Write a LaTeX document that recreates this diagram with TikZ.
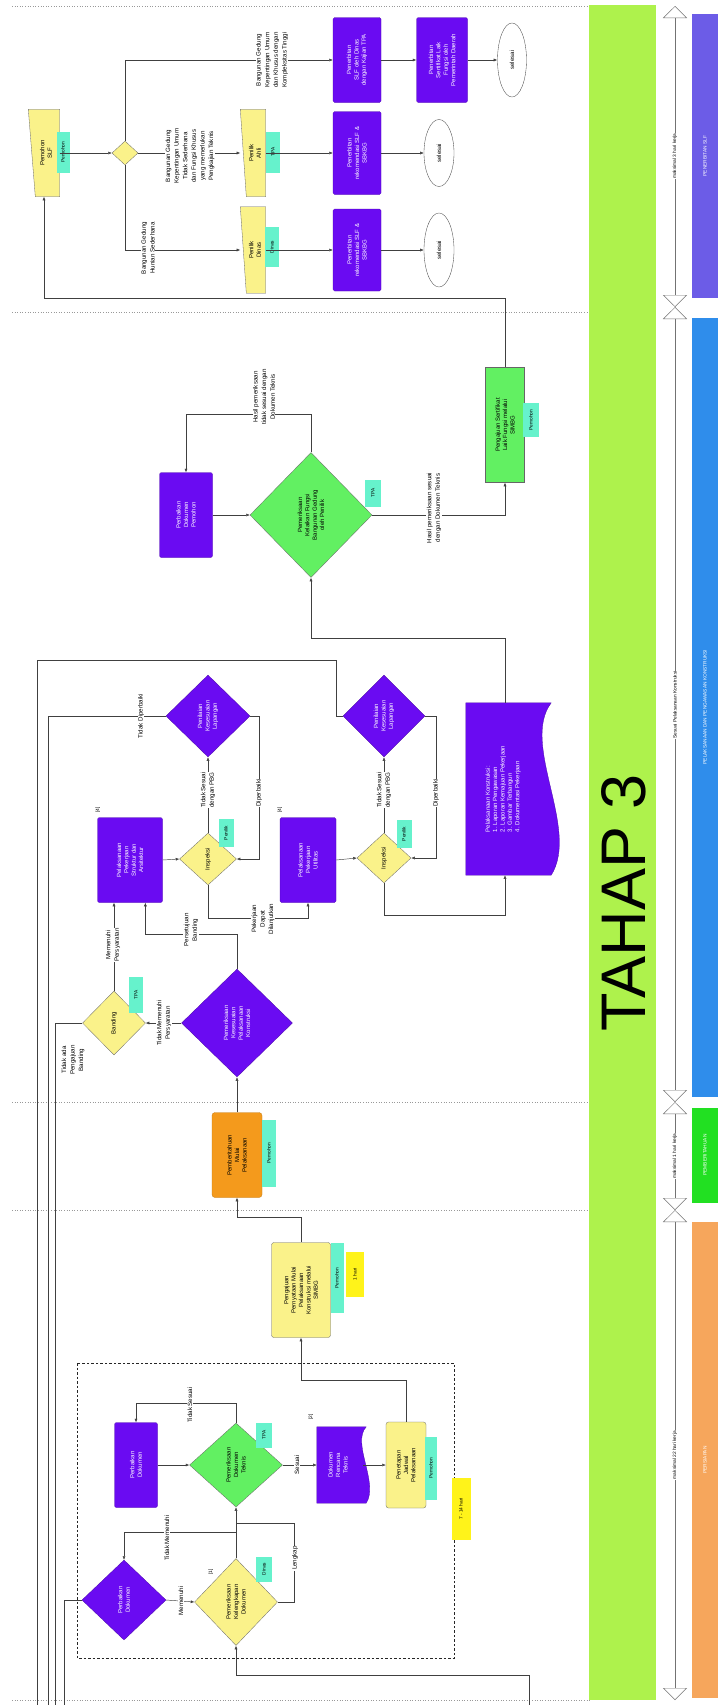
\documentclass[tikz,border=0pt]{standalone}
\usepackage{fontspec}
\setmainfont{Liberation Sans}
\usepackage{graphicx}
\usetikzlibrary{shapes.geometric,arrows.meta,calc}
\definecolor{pur}{HTML}{6A0BF2}
\definecolor{yel}{HTML}{FAF28A}
\definecolor{grn}{HTML}{62F062}
\definecolor{cyn}{HTML}{66F2CC}
\definecolor{org}{HTML}{F49A1C}
\definecolor{bigg}{HTML}{AEF24C}
\definecolor{lpur}{HTML}{6C5CE7}
\definecolor{lblu}{HTML}{2F8DEB}
\definecolor{lgrn}{HTML}{22E022}
\definecolor{lorg}{HTML}{F6A65C}
\newcommand\labfont{\fontsize{6.2}{8.6}\selectfont}
\newcommand\boxfont{\fontsize{6}{7.4}\selectfont}
\newcommand\tagfont{\fontsize{4.8}{5.6}\selectfont}
\newcommand\stripfont{\fontsize{4.8}{5.6}\selectfont}
\tikzset{
 ln/.style={draw=black!75, line width=0.45pt},
 arr/.style={ln, -{Latex[length=3.6pt,width=3pt]}},
 pbox/.style={rectangle, rounded corners=1.5pt, fill=pur, draw=pur!70!black, line width=0.3pt, inner sep=0pt},
 ybox/.style={rectangle, rounded corners=2.5pt, fill=yel, draw=black!60, line width=0.3pt, inner sep=0pt},
 gbox/.style={rectangle, fill=grn, draw=black!60, line width=0.3pt, inner sep=0pt},
 obox/.style={rectangle, rounded corners=3pt, fill=org, draw=org!80!black, line width=0.3pt, inner sep=0pt},
 dia/.style={diamond, inner sep=0pt, line width=0.3pt, draw=black!60},
 pdia/.style={dia, fill=pur, draw=pur!70!black},
 hold/.style={rectangle, inner sep=0pt, draw=none},
 tagbox/.style={rectangle, fill=cyn, inner sep=0.5pt, rotate=90, font=\tagfont},
 ytag/.style={rectangle, fill=yellow!90!white, inner sep=0.5pt, rotate=90, font=\tagfont},
 vt/.style={rotate=90, align=center, inner sep=0.6pt, font=\labfont},
 lab/.style={vt, fill=white},
 wt/.style={rotate=90, align=center, inner sep=0pt, font=\boxfont, text=white},
 bt/.style={rotate=90, align=center, inner sep=0pt, font=\boxfont, text=black},
 mk/.style={rotate=90, inner sep=0pt, font=\tagfont},
 strip/.style={draw=black!55, line width=0.4pt, {Triangle[open,length=12pt,width=24pt]}-{Triangle[open,length=12pt,width=24pt]}},
 lanebar/.style={rectangle, rotate=90, inner sep=0pt, text=white, font=\stripfont, minimum height=26pt},
}
\begin{document}
\begin{tikzpicture}[x=1pt,y=-1pt]
\useasboundingbox (0,0) rectangle (718,1705);
\fill[white] (0,0) rectangle (718,1705);

% lane separators
\foreach \yy in {6,312,1102,1210,1700}
  \draw[black!40, dotted, line width=0.6pt] (12,\yy) -- (590,\yy);

% ---------------- right panel ----------------
\node[rectangle, fill=bigg, inner sep=0pt, minimum width=67pt, minimum height=1695pt] (bigbar) at (622.5,852.5) {};
\node[rotate=90, inner sep=0pt, font=\fontsize{63}{63}\selectfont] (tahap) at (624,903) {TAHAP 3};

\coordinate (s0) at (675,6);
\coordinate (s1) at (675,307);
\coordinate (s2) at (675,1102);
\coordinate (s3) at (675,1210);
\coordinate (s4) at (675,1700);
\draw[strip] (s0) -- (s1);
\draw[strip] (s1) -- (s2);
\draw[strip] (s2) -- (s3);
\draw[strip] (s3) -- (s4);
\node[vt, fill=white, font=\stripfont] (sl1) at (675,156) {maksimal 3 hari kerja};
\node[vt, fill=white, font=\stripfont] (sl2) at (675,705) {Sesuai Pelaksanaan Konstruksi};
\node[vt, fill=white, font=\stripfont] (sl3) at (675,1156) {maksimal 1 hari kerja};
\node[vt, fill=white, font=\stripfont] (sl4) at (675,1455) {maksimal 22 hari kerja};

\node[lanebar, fill=lpur, minimum width=284pt] (lb1) at (705,156) {PENERBITAN SLF};
\node[lanebar, fill=lblu, minimum width=779pt] (lb2) at (705,707) {PELAKSANAAN DAN PENGAWASAN KONSTRUKSI};
\node[lanebar, fill=lgrn, minimum width=95pt] (lb3) at (705,1155) {PEMBERITAHUAN};
\node[lanebar, fill=lorg, minimum width=476pt] (lb4) at (705,1460) {PERSIAPAN};

% ---------------- lane 1 : penerbitan ----------------
\node[hold, minimum width=31pt, minimum height=87pt] (tA) at (44,153) {};
\filldraw[fill=yel, draw=black!60, line width=0.3pt] (tA.north west) -- (tA.north east) -- (tA.south east) -- ($(tA.south west)+(7,0)$) -- cycle;
\node[bt] (tA-t) at (46,153) {Pemohon\\SLF};
\node[tagbox, minimum width=41pt, minimum height=13pt] (tA-g) at (63,152) {Pemohon};

\node[dia, fill=yel, minimum width=26pt, minimum height=24pt] (dA) at (125,153) {};

\node[hold, minimum width=25pt, minimum height=87pt] (tB) at (253,153) {};
\filldraw[fill=yel, draw=black!60, line width=0.3pt] (tB.north west) -- (tB.north east) -- (tB.south east) -- ($(tB.south west)+(6,0)$) -- cycle;
\node[bt] (tB-t) at (255,153) {Penilik\\Ahli};
\node[tagbox, minimum width=41pt, minimum height=14pt] (tB-g) at (273,152) {TPA};

\node[hold, minimum width=25pt, minimum height=86pt] (tC) at (253,250) {};
\filldraw[fill=yel, draw=black!60, line width=0.3pt] (tC.north west) -- (tC.north east) -- (tC.south east) -- ($(tC.south west)+(6,0)$) -- cycle;
\node[bt] (tC-t) at (255,250) {Penilik\\Dinas};
\node[tagbox, minimum width=40pt, minimum height=14pt] (tC-g) at (272,247) {Dinas};

\node[pbox, minimum width=48pt, minimum height=85pt] (pA) at (357,60) {};
\node[wt] (pA-t) at (pA) {Penerbitan\\SLF oleh Dinas\\dengan Kajian TPA};
\node[pbox, minimum width=51pt, minimum height=85pt] (pD) at (442,60) {};
\node[wt] (pD-t) at (pD) {Penerbitan\\Sertifikat Laik\\Fungsi oleh\\Pemerintah Daerah};
\node[pbox, minimum width=48pt, minimum height=83pt] (pB) at (357,153) {};
\node[wt] (pB-t) at (pB) {Penerbitan\\rekomendasi SLF \&\\SBKBG};
\node[pbox, minimum width=48pt, minimum height=82pt] (pC) at (357,250) {};
\node[wt] (pC-t) at (pC) {Penerbitan\\rekomendasi SLF \&\\SBKBG};

\node[ellipse, draw=black!70, fill=white, line width=0.35pt, inner sep=0pt, minimum width=29pt, minimum height=74pt] (eA) at (512,60) {};
\node[bt] (eA-t) at (eA) {selesai};
\node[ellipse, draw=black!70, fill=white, line width=0.35pt, inner sep=0pt, minimum width=30pt, minimum height=67pt] (eB) at (439,153) {};
\node[bt] (eB-t) at (eB) {selesai};
\node[ellipse, draw=black!70, fill=white, line width=0.35pt, inner sep=0pt, minimum width=30pt, minimum height=74pt] (eC) at (439,250) {};
\node[bt] (eC-t) at (eC) {selesai};

\draw[arr] (tA.east) -- (dA.west);
\draw[arr] (dA.north) |- (pA.west);
\draw[arr] (dA.east) -- (tB.west);
\draw[arr] (dA.south) |- (tC.west);
\draw[arr] (tB.east) -- (pB.west);
\draw[arr] (tC.east) -- (pC.west);
\draw[arr] (pA.east) -- (pD.west);
\draw[arr] (pD.east) -- (eA.west);
\draw[arr] (pB.east) -- (eB.west);
\draw[arr] (pC.east) -- (eC.west);

\node[lab] (l1) at (272,60) {Bangunan Gedung\\Kepentingan Umum\\dan Khusus dengan\\Kompleksitas Tinggi};
\node[lab] (l2) at (190,156) {Bangunan Gedung\\Kepentingan Umum\\Tidak Sederhana\\dan Fungsi Khusus\\yang memerlukan\\Pengkajian Teknis};
\node[lab] (l3) at (148,248) {Bangunan Gedung\\Hunian Sederhana};

% ---------------- lane 2 : pelaksanaan ----------------
\node[gbox, minimum width=39pt, minimum height=115pt] (gE) at (505,425) {};
\node[bt] (gE-t) at (gE) {Pengajuan Sertifikat\\Laik Fungsi melalui\\SIMBG};
\node[tagbox, minimum width=34pt, minimum height=16pt] (gE-g) at (531,420) {Pemohon};

\node[dia, fill=grn, minimum width=122pt, minimum height=125pt] (gD) at (311,515) {};
\node[bt] (gD-t) at (gD) {Pemeriksaan\\Kelaikan Fungsi\\Bangunan Gedung\\oleh Penilik};
\node[tagbox, minimum width=27pt, minimum height=16pt] (gD-g) at (373,493) {TPA};

\node[pbox, minimum width=53pt, minimum height=85pt] (pE) at (186,515) {};
\node[wt] (pE-t) at (pE) {Perbaikan\\Dokumen\\Pemohon};

\node[hold, minimum width=78pt, minimum height=172pt] (wD) at (505,789) {};
\filldraw[fill=pur, draw=pur!70!black, line width=0.3pt] (wD.north west) -- ($(wD.north east)+(7,0)$) .. controls ($(wD.east)+(-24,-45)$) and ($(wD.east)+(36,40)$) .. ($(wD.south east)+(7,0)$) -- (wD.south west) -- cycle;
\node[wt, align=left] (wD-t) at (503,789) {Pelaksanaan Konstruksi:\\1. Laporan Pengawasan\\2. Laporan Kemajuan Pekerjaan\\3. Gambar Terbangun\\4. Dokumentasi Pekerjaan};

\node[pdia, minimum width=84pt, minimum height=82pt] (dPA) at (208,716) {};
\node[wt] (dPA-t) at (dPA) {Penilaian\\Kesesuaian\\Lapangan};
\node[pdia, minimum width=82pt, minimum height=82pt] (dPB) at (384,716) {};
\node[wt] (dPB-t) at (dPB) {Penilaian\\Kesesuaian\\Lapangan};

\node[pbox, minimum width=65pt, minimum height=85pt] (pC2) at (130,860) {};
\node[wt] (pC2-t) at (pC2) {Pelaksanaan\\Pekerjaan\\Struktur dan\\Arsitektur};
\node[pbox, minimum width=56pt, minimum height=85pt] (pD2) at (308,860) {};
\node[wt] (pD2-t) at (pD2) {Pelaksanaan\\Pekerjaan\\Utilitas};
\node[mk] (m4a) at (98,810) {[4]};
\node[mk] (m4b) at (280,810) {[4]};

\node[dia, fill=yel, minimum width=57pt, minimum height=52pt] (yE) at (208,859) {};
\node[bt] (yE-t) at (yE) {Inspeksi};
\node[tagbox, minimum width=28pt, minimum height=15pt] (yE-g) at (226,833) {Penilik};
\node[dia, fill=yel, minimum width=54pt, minimum height=50pt] (yF) at (384,858) {};
\node[bt] (yF-t) at (yF) {Inspeksi};
\node[tagbox, minimum width=28pt, minimum height=15pt] (yF-g) at (404,834) {Penilik};

\node[dia, fill=yel, minimum width=63pt, minimum height=64pt] (yH) at (114,1023) {};
\node[bt] (yH-t) at (yH) {Banding};
\node[tagbox, minimum width=36pt, minimum height=14pt] (yH-g) at (136,995) {TPA};

\node[pdia, minimum width=111pt, minimum height=108pt] (dG) at (237,1023) {};
\node[wt] (dG-t) at (dG) {Pemeriksaan\\Kesesuaian\\Pelaksanaan\\Konstruksi};

% connectors lane 2
\coordinate (r1) at (505,298);
\draw[arr] (gE.north) -- (r1) -| (tA.south);
\draw[arr] (pE.east) -- (gD.west);
\draw[arr] (gD.north) -- ++(0,-38) -| (pE.north);
\draw[arr] (gD.east) -| (gE.south);
\draw[arr] (wD.north) -- ++(0,-65) -| (gD.south);

\coordinate (L1a) at (37,660);
\coordinate (L1b) at (37,1705);
\coordinate (L2b) at (48,1705);
\coordinate (L3b) at (55,1705);
\coordinate (L4b) at (64,1705);
\draw[ln] (dPB.west) -- ++(-7,0) |- (L1a) -- (L1b);
\draw[ln] (dPA.west) -| (L2b);
\draw[arr] (dPA.east) -- ++(9,0) |- (yE.east);
\draw[arr] (dPB.east) -- ++(11,0) |- (yF.east);
\draw[arr] (yE.north) -- (dPA.south);
\draw[arr] (yF.north) -- (dPB.south);
\draw[arr] (pC2.east) -- (yE.west);
\draw[arr] (pD2.east) -- (yF.west);
\draw[arr] (yE.south) -- ++(0,33) -| (pD2.south);
\draw[arr] (yF.south) -- ++(0,32) -| (wD.south);
\draw[arr] (dG.north) -- ++(0,-35) -| ($(pC2.south)!0.47!(pC2.south east)$);
\draw[arr] (yH.north) -- (yH.north |- pC2.south);
\draw[arr] (dG.west) -- (yH.east);
\draw[ln] (yH.west) -| (L3b);

\node[lab] (l4) at (264,397) {Hasil pemeriksaan\\tidak sesuai dengan\\Dokumen Teknis};
\node[lab] (l5) at (434,508) {Hasil pemeriksaan sesuai\\dengan Dokumen Teknis};
\node[lab] (l6) at (141,716) {Tidak Diperbaiki};
\node[lab] (l7) at (208,790) {Tidak Sesuai\\dengan PBG};
\node[lab] (l8) at (384,790) {Tidak Sesuai\\dengan PBG};
\node[lab] (l9) at (259,793) {Diperbaiki};
\node[lab] (l10) at (436,793) {Diperbaiki};
\node[lab] (l11) at (191,930) {Persetujuan\\Banding};
\node[lab] (l12) at (263,919) {Pekerjaan\\Dapat\\Dilanjutkan};
\node[lab] (l13) at (113,945) {Memenuhi\\Persyaratan};
\node[lab] (l14) at (73,1060) {Tidak ada\\Pengajuan\\Banding};
\node[lab] (l15) at (164,1023) {Tidak Memenuhi\\Persyaratan};

% ---------------- lane 3 : pemberitahuan ----------------
\node[obox, minimum width=50pt, minimum height=85pt] (oB) at (237,1155) {};
\node[bt] (oB-t) at (oB) {Pemberitahuan\\Mulai\\Pelaksanaan};
\node[tagbox, minimum width=67pt, minimum height=14pt] (oB-g) at (269,1153) {Pemohon};
\draw[arr] (oB.north) -- (dG.south);

% ---------------- lane 4 : persiapan ----------------
\node[ybox, minimum width=59pt, minimum height=95pt] (yP) at (301,1290) {};
\node[bt] (yP-t) at (yP) {Pengajuan\\Pernyataan Mulai\\Pelaksanaan\\Konstruksi melalui\\SIMBG};
\node[tagbox, minimum width=70pt, minimum height=13pt] (yP-g) at (337,1278) {Pemohon};
\node[ytag, minimum width=45pt, minimum height=18pt] (yP-h) at (355,1274) {1 hari};
\draw[arr] (yP.north) -- ++(0,-25) -| (oB.south);

\draw[black!85, line width=0.9pt, dash pattern=on 2.5pt off 2pt] (77,1363) rectangle (454,1658);

\node[pbox, minimum width=43pt, minimum height=85pt] (pI) at (136,1465) {};
\node[wt] (pI-t) at (pI) {Perbaikan\\Dokumen};
\node[dia, fill=grn, minimum width=93pt, minimum height=84pt] (gJ) at (236,1465) {};
\node[bt] (gJ-t) at (gJ) {Pemeriksaan\\Dokumen\\Teknis};
\node[tagbox, minimum width=25pt, minimum height=16pt] (gJ-g) at (264,1435) {TPA};
\node[hold, minimum width=46pt, minimum height=76pt] (pK) at (340,1465) {};
\filldraw[fill=pur, draw=pur!70!black, line width=0.3pt] (pK.north west) -- ($(pK.north east)+(3,0)$) .. controls ($(pK.east)+(-12,-22)$) and ($(pK.east)+(16,18)$) .. ($(pK.south east)+(3,0)$) -- (pK.south west) -- cycle;
\node[wt] (pK-t) at (338,1465) {Dokumen\\Rencana\\Teknis};
\node[mk] (m2) at (311,1417) {[2]};
\node[ybox, minimum width=40pt, minimum height=86pt] (yL) at (406,1465) {};
\node[bt] (yL-t) at (yL) {Penetapan\\Jadwal\\Pelaksanaan};
\node[tagbox, minimum width=63pt, minimum height=12pt] (yL-g) at (431,1468) {Pemohon};
\node[ytag, minimum width=62pt, minimum height=19pt] (ytg) at (461,1509) {7 - 14 hari};

\node[dia, fill=yel, minimum width=83pt, minimum height=87pt] (yM) at (236,1602) {};
\node[bt] (yM-t) at (yM) {Pemeriksaan\\Kelengkapan\\Dokumen};
\node[tagbox, minimum width=25pt, minimum height=16pt] (yM-g) at (264,1569) {Dinas};
\node[mk] (m1) at (211,1572) {[1]};
\node[pdia, minimum width=84pt, minimum height=80pt] (dN) at (124,1600) {};
\node[wt] (dN-t) at (dN) {Perbaikan\\Dokumen};

\coordinate (jn) at (236,1523);
\coordinate (jn2) at (236,1532);
\coordinate (Lb) at (529,1705);
\draw[arr] (gJ.north) -- ++(0,-20) -| (pI.north);
\draw[arr] (pI.east) -- (gJ.west);
\draw[arr] (gJ.east) -- (pK.west);
\draw[arr] (pK.east) -- (yL.west);
\draw[arr] (yL.north) -- ++(0,-42) -| (yP.south);
\draw[arr] (yM.north) -- (gJ.south);
\draw[ln] (yM.east) -- ++(17,0) |- (jn);
\draw[arr] (jn2) -| (dN.north);
\draw[arr] (dN.east) -- (yM.west);
\draw[ln] (dN.west) -| (L4b);
\draw[arr] (Lb) -- ++(0,-30) -| (yM.south);

\node[lab] (l16) at (190,1405) {Tidak Sesuai};
\node[lab] (l17) at (297,1465) {Sesuai};
\node[lab] (l18) at (295,1558) {Lengkap};
\node[lab] (l19) at (167,1538) {Tidak Memenuhi};
\node[lab] (l20) at (181,1601) {Memenuhi};
\end{tikzpicture}
\end{document}
